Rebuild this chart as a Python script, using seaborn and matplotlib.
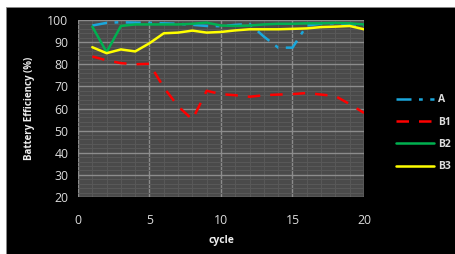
import pandas as pd
import matplotlib.pyplot as plt
import seaborn as sns
from matplotlib.patches import Rectangle
from matplotlib.ticker import MultipleLocator

# data
cycle = list(range(1, 21))
a_vals = [97.5, 98.7, 99.0, 98.8, 98.7, 98.5, 98.3, 97.8, 97.3, 97.2,
          97.8, 98.2, 92.5, 87.5, 87.5, 97.5, 98.3, 98.5, 98.3, 97.5]
b1_vals = [83.5, 81.8, 80.5, 80.0, 80.2, 69.5, 61.0, 55.0, 68.0, 66.5,
           66.0, 65.3, 66.0, 66.3, 66.5, 67.0, 66.3, 65.6, 62.0, 58.0]
b2_vals = [97.0, 85.5, 97.3, 98.0, 98.0, 98.0, 98.0, 98.3, 98.8, 97.5,
           97.3, 97.5, 98.0, 98.3, 98.3, 98.5, 98.5, 98.7, 98.5, 98.0]
b3_vals = [87.7, 85.0, 86.7, 85.8, 89.5, 94.0, 94.3, 95.2, 94.3, 94.6,
           95.3, 95.8, 95.8, 95.8, 96.0, 96.2, 96.8, 97.0, 97.3, 95.8]

series = ["A", "B1", "B2", "B3"]
colors = ["#1aa7dc", "#ff0000", "#00b050", "#ffff00"]
dashes = [(6, 3, 1.5, 3), (5, 4), (), ()]

df = pd.DataFrame({"cycle": cycle, "A": a_vals, "B1": b1_vals,
                   "B2": b2_vals, "B3": b3_vals})
long = df.melt(id_vars="cycle", var_name="series", value_name="eff")

sns.set_style("dark")
plt.rcParams["font.family"] = ["Open Sans", "DejaVu Sans"]

fig = plt.figure(figsize=(4.56, 2.54), dpi=100, facecolor="white")
bg = Rectangle((6 / 456, 0), 1, 247 / 254, transform=fig.transFigure,
               facecolor="black", edgecolor="#888888", lw=0.6, zorder=-10)
fig.add_artist(bg)
ax = fig.add_axes([78 / 456, 1 - 197 / 254, 286 / 456, 177 / 254])
ax.set_zorder(1)
ax.set_facecolor("#4a4a4a")

for name, col, dsh in zip(series, colors, dashes):
    sub = long[long["series"] == name]
    sns.lineplot(data=sub, x="cycle", y="eff", ax=ax, color=col, lw=1.8,
                 label=name)
    if dsh:
        ax.lines[-1].set_dashes(dsh)

ax.set_xlim(0, 20)
ax.set_ylim(20, 100)
ax.xaxis.set_major_locator(MultipleLocator(5))
ax.xaxis.set_minor_locator(MultipleLocator(1))
ax.yaxis.set_major_locator(MultipleLocator(10))
ax.yaxis.set_minor_locator(MultipleLocator(2))
ax.grid(which="major", color="#8c8c8c", lw=1.0)
ax.grid(which="minor", color="#585858", lw=0.8)
ax.set_axisbelow(True)
for s in ax.spines.values():
    s.set_visible(False)

ax.tick_params(which="major", colors="#dddddd", labelsize=8.8, length=4,
               color="#888888", pad=3)
ax.tick_params(axis="x", pad=8)
ax.tick_params(which="minor", length=0)

ax.set_xlabel("cycle", color="#eeeeee", fontsize=7.5, fontweight="bold", labelpad=6)
ax.set_ylabel("Battery Efficiency (%)", color="#eeeeee", fontsize=7,
              fontweight="bold", labelpad=9)

leg = ax.legend(loc="center left", bbox_to_anchor=(1.08, 0.36), frameon=False,
                fontsize=7.5, handlelength=3.6, labelspacing=1.08,
                handletextpad=0.4)
for t in leg.get_texts():
    t.set_color("#dddddd")
    t.set_fontweight("bold")

fig.savefig("out.png", dpi=100, facecolor=fig.get_facecolor())
